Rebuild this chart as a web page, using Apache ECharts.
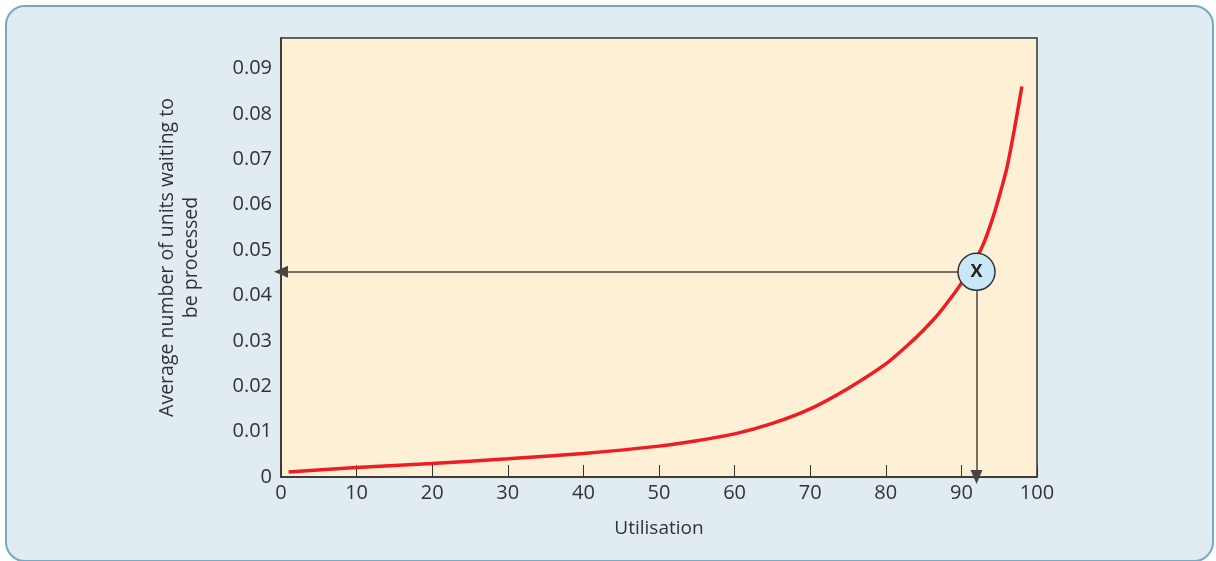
<!DOCTYPE html>
<html>
<head>
<meta charset="utf-8">
<script src="https://cdn.jsdelivr.net/npm/echarts@6/dist/echarts.min.js"></script>
<style>
  html, body { margin: 0; padding: 0; background: #ffffff; }
  #frame { position: absolute; left: 5px; top: 5px; width: 1209px; height: 557px; box-sizing: border-box;
           border: 2px solid #74aac6; border-radius: 20px; background: #e0ebf2; }
  #chart { position: absolute; left: 0; top: 0; width: 1216px; height: 561px; }
</style>
</head>
<body>
<div id="frame"></div>
<div id="chart"></div>
<script>
// Data
const utilisation = [1, 10, 20, 30, 40, 50, 55, 60, 65, 70, 75, 80, 83, 85, 87, 89, 90, 91, 92, 93, 94, 95, 96, 97, 98];
const waiting     = [0.0011, 0.0021, 0.003, 0.004, 0.0052, 0.0068, 0.008, 0.0095, 0.0118, 0.015, 0.0195, 0.0249, 0.0292, 0.0324, 0.036, 0.0403, 0.0427, 0.0453, 0.0482, 0.0517, 0.0563, 0.0618, 0.068, 0.0765, 0.086];
const markerPoint = [92, 0.0452];
const markerLabel = 'X';
const xTitle = 'Utilisation';
const yTitle = 'Average number of units waiting to\nbe processed';

const chart = echarts.init(document.getElementById('chart'), null, { renderer: 'canvas' });
const font = '"Open Sans", "Noto Sans", sans-serif';
const curve = utilisation.map((u, i) => [u, waiting[i]]);

chart.setOption({
  backgroundColor: 'transparent',
  animation: false,
  textStyle: { fontFamily: font },
  grid: { left: 281, right: 179, top: 38, bottom: 84, show: true, backgroundColor: '#fef0d4',
          borderColor: '#333333', borderWidth: 1.5 },
  xAxis: {
    type: 'value', min: 0, max: 100, interval: 10,
    name: xTitle, nameLocation: 'middle', nameGap: 42,
    nameTextStyle: { fontSize: 19, color: '#333', fontFamily: font },
    axisLine: { show: true, lineStyle: { color: '#333', width: 1.5 } },
    axisTick: { show: true, inside: true, length: 12, lineStyle: { color: '#333', width: 1 } },
    axisLabel: { fontSize: 20, color: '#333', margin: 6, fontFamily: font },
    splitLine: { show: false }
  },
  yAxis: {
    type: 'value', min: 0, max: 0.0967, interval: 0.01,
    name: yTitle, nameLocation: 'middle', nameGap: 78, nameRotate: 90,
    nameTextStyle: { fontSize: 19.5, color: '#333', fontFamily: font, lineHeight: 24 },
    axisLine: { show: true, lineStyle: { color: '#333', width: 1.5 } },
    axisTick: { show: false },
    axisLabel: { fontSize: 20, color: '#333', margin: 9, fontFamily: font,
      formatter: v => v > 0.0905 ? '' : (v === 0 ? '0' : v.toFixed(2)) },
    splitLine: { show: false }
  },
  series: [
    {
      type: 'line', data: curve, smooth: 0.25, showSymbol: false, z: 3,
      lineStyle: { color: '#ee1c25', width: 3.5 },
      markLine: {
        silent: true, symbol: ['none', 'triangle'], symbolSize: [12, 14],
        lineStyle: { color: '#4a453f', width: 1.5, type: 'solid' },
        label: { show: false },
        data: [
          [{ coord: markerPoint }, { coord: [0, markerPoint[1]] }],
          [{ coord: markerPoint }, { coord: [markerPoint[0], 0] }]
        ]
      }
    },
    {
      type: 'scatter', data: [markerPoint], symbol: 'circle', symbolSize: 37, z: 5,
      itemStyle: { color: '#c8e8f8', borderColor: '#333', borderWidth: 1.5, opacity: 1 },
      label: { show: true, position: 'inside', formatter: markerLabel, fontSize: 18, fontWeight: 'bold', color: '#222', fontFamily: font }
    }
  ]
});
</script>
</body>
</html>
